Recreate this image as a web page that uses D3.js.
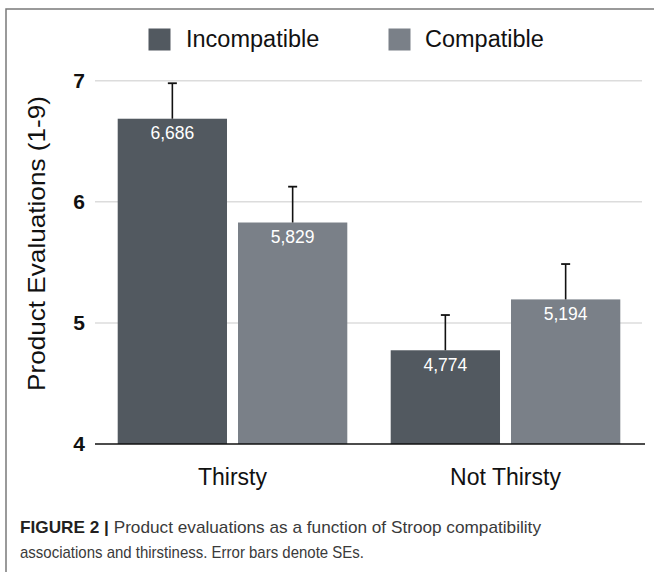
<!DOCTYPE html>
<html>
<head>
<meta charset="utf-8">
<script src="https://cdn.jsdelivr.net/npm/d3@7"></script>
<style>
  html, body { margin: 0; padding: 0; background: #fff; }
  svg { display: block; }
</style>
</head>
<body>
<svg id="chart" width="654" height="572"></svg>
<script>
const categories = ["Thirsty", "Not Thirsty"];
const seriesNames = ["Incompatible", "Compatible"];
const incompatibleValues = [6.686, 4.774];
const compatibleValues = [5.829, 5.194];
const incompatibleSE = [0.293, 0.291];
const compatibleSE = [0.296, 0.292];
const valueLabels = [["6,686", "4,774"], ["5,829", "5,194"]];
const yTicks = [4, 5, 6, 7];
const colors = ["#525960", "#7a8088"];
const yTitle = "Product Evaluations (1-9)";
const captionBold = "FIGURE 2 | ";
const captionLine1 = "Product evaluations as a function of Stroop compatibility";
const captionLine2 = "associations and thirstiness. Error bars denote SEs.";

const seriesValues = [incompatibleValues, compatibleValues];
const seriesSE = [incompatibleSE, compatibleSE];

const svg = d3.select("#chart");
const font = "'Liberation Sans', Arial, Helvetica, sans-serif";

// frame (top + left)
svg.append("path")
  .attr("d", "M6,572 L6,9 L654,9")
  .attr("fill", "none").attr("stroke", "#7a7a7a").attr("stroke-width", 1.5);

const plotLeft = 96, plotRight = 642;
const y = d3.scaleLinear().domain([4, 7]).range([444, 80.7]);
const x0 = d3.scaleBand().domain(categories).range([plotLeft, plotRight])
  .paddingInner(0.159).paddingOuter(0.0795);
const x1 = d3.scaleBand().domain(seriesNames).range([0, x0.bandwidth()])
  .paddingInner(0.0914).paddingOuter(0);

// gridlines
svg.append("g").selectAll("line").data(yTicks.filter(t => t > 4)).join("line")
  .attr("x1", plotLeft - 1).attr("x2", plotRight)
  .attr("y1", d => y(d)).attr("y2", d => y(d))
  .attr("stroke", "#dcdcdc").attr("stroke-width", 1.5);

// y tick labels
const yAxis = d3.axisLeft(y).tickValues(yTicks).tickSize(0).tickPadding(10).tickFormat(d3.format("d"));
const gy = svg.append("g").attr("transform", `translate(${plotLeft - 1},0)`).call(yAxis);
gy.select(".domain").remove();
gy.selectAll("text")
  .attr("font-family", font).attr("font-size", 21).attr("font-weight", "bold")
  .attr("fill", "#111");

// bars
const groups = svg.append("g").selectAll("g").data(categories).join("g")
  .attr("transform", d => `translate(${x0(d)},0)`);

groups.each(function(cat, ci) {
  const g = d3.select(this);
  seriesNames.forEach((s, si) => {
    const v = seriesValues[si][ci];
    const se = seriesSE[si][ci];
    const bx = x1(s), bw = x1.bandwidth();
    g.append("rect")
      .attr("x", bx).attr("width", bw)
      .attr("y", y(v)).attr("height", y(4) - y(v))
      .attr("fill", colors[si]);
    const cx = bx + bw / 2;
    g.append("line")
      .attr("x1", cx).attr("x2", cx)
      .attr("y1", y(v)).attr("y2", y(v + se))
      .attr("stroke", "#111").attr("stroke-width", 1.6);
    g.append("line")
      .attr("x1", cx - 4.5).attr("x2", cx + 4.5)
      .attr("y1", y(v + se)).attr("y2", y(v + se))
      .attr("stroke", "#111").attr("stroke-width", 1.8);
    g.append("text")
      .attr("x", cx).attr("y", y(v) + 20.5)
      .attr("text-anchor", "middle")
      .attr("font-family", font).attr("font-size", 17.5)
      .attr("fill", "#fff")
      .text(valueLabels[si][ci]);
  });
});

// x axis baseline
svg.append("line")
  .attr("x1", plotLeft - 1).attr("x2", plotRight + 3)
  .attr("y1", y(4)).attr("y2", y(4))
  .attr("stroke", "#111").attr("stroke-width", 1.6);

// category labels
const xAxis = d3.axisBottom(x0).tickSize(0).tickPadding(0);
const gx = svg.append("g").attr("transform", `translate(0,${y(4)})`).call(xAxis);
gx.select(".domain").remove();
gx.selectAll("text")
  .attr("dy", null).attr("y", 41)
  .attr("font-family", font).attr("font-size", 23)
  .attr("fill", "#111");

// y title
svg.append("text")
  .attr("transform", `translate(45,${243.5}) rotate(-90)`)
  .attr("text-anchor", "middle")
  .attr("font-family", font).attr("font-size", 24.5)
  .attr("fill", "#111")
  .attr("textLength", 295).attr("lengthAdjust", "spacingAndGlyphs")
  .text(yTitle);

// legend
const legendX = [148.5, 388.5];
const leg = svg.append("g").selectAll("g").data(seriesNames).join("g")
  .attr("transform", (d, i) => `translate(${legendX[i]},28.5)`);
leg.append("rect").attr("width", 22).attr("height", 22)
  .attr("fill", (d, i) => colors[i]);
leg.append("text").attr("x", (d, i) => i === 0 ? 37.5 : 36.5).attr("y", 18.5)
  .attr("font-family", font).attr("font-size", 23.5)
  .attr("fill", "#111")
  .text(d => d);

// caption
const cap1 = svg.append("text").attr("x", 20).attr("y", 533)
  .attr("font-family", font).attr("font-size", 17)
  .attr("textLength", 521).attr("lengthAdjust", "spacingAndGlyphs");
cap1.append("tspan").attr("font-weight", "bold").attr("fill", "#231f20").text(captionBold);
cap1.append("tspan").attr("fill", "#3a3a3a").text(captionLine1);
svg.append("text").attr("x", 20).attr("y", 558)
  .attr("font-family", font).attr("font-size", 17)
  .attr("fill", "#3a3a3a")
  .attr("textLength", 344).attr("lengthAdjust", "spacingAndGlyphs")
  .text(captionLine2);
</script>
</body>
</html>
